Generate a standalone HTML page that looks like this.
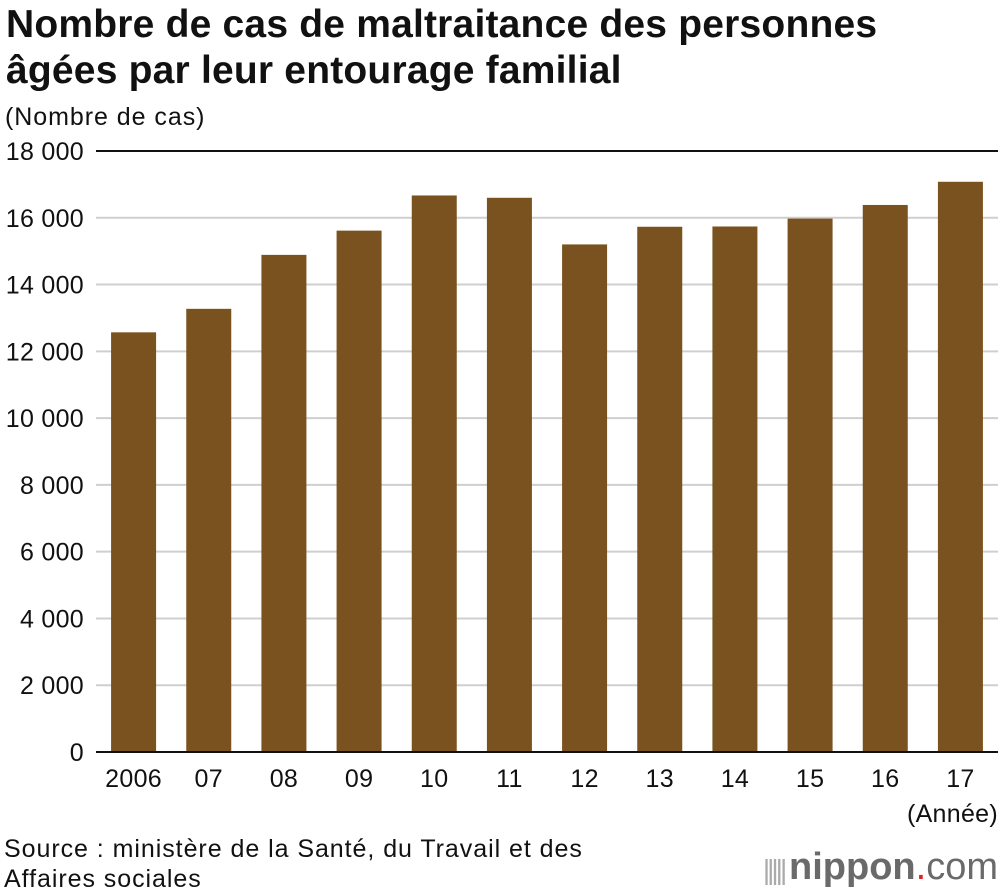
<!DOCTYPE html>
<html><head><meta charset="utf-8"><style>
body{margin:0;background:#fff;font-family:"Liberation Sans",sans-serif;}
#wrap{position:relative;width:1000px;height:896px;overflow:hidden;}
.t{position:absolute;color:#111;}
</style></head><body>
<div id="wrap">
<div class="t" style="left:6px;top:2px;font-size:39px;font-weight:bold;line-height:46px;letter-spacing:0.2px;">Nombre de cas de maltraitance des personnes<br>âgées par leur entourage familial</div>
<div class="t" style="left:5px;top:103px;font-size:25px;letter-spacing:0.95px;">(Nombre de cas)</div>
<svg id="chart" width="1000" height="896" style="position:absolute;left:0;top:0"></svg>
<div class="t" style="right:2px;top:800px;font-size:25px;letter-spacing:0.3px;">(Année)</div>
<div class="t" style="left:4px;top:834px;font-size:25px;line-height:30px;letter-spacing:0.95px;">Source : ministère de la Santé, du Travail et des<br>Affaires sociales</div>
<div style="position:absolute;right:2px;top:846px;font-size:38px;color:#6a6a6a;font-family:'Liberation Sans',sans-serif;white-space:nowrap;">
<span style="color:#aaa;font-size:28px;letter-spacing:-3px;">||||| </span><span style="font-weight:bold;">nippon</span><span style="color:#e02020">.</span>com</div>
</div>
<script>
const categories=["2006","07","08","09","10","11","12","13","14","15","16","17"];
const values=[12569,13273,14889,15615,16668,16599,15202,15731,15739,15976,16384,17078];
const yTicks=[0,2000,4000,6000,8000,10000,12000,14000,16000,18000];
const yTickLabels=["0","2 000","4 000","6 000","8 000","10 000","12 000","14 000","16 000","18 000"];
const svg=document.getElementById('chart');
const NS='http://www.w3.org/2000/svg';
const x0=96,x1=998,y0=752,y1=151,ymax=18000;
const band=(x1-x0)/categories.length,bw=45;
function y(v){return y0-(v/ymax)*(y0-y1);}
function xc(i){return x0+band*(i+0.5);}
function mk(tag,attrs){const e=document.createElementNS(NS,tag);for(const k in attrs)e.setAttribute(k,attrs[k]);svg.appendChild(e);return e;}
yTicks.forEach((t,i)=>{
  const l=mk('line',{x1:x0,x2:x1,y1:y(t),y2:y(t),stroke:(t===ymax)?'#111':'#cfcfcf','stroke-width':2});
  
  
  const tx=mk('text',{x:84,y:y(t)+9,'text-anchor':'end','font-size':25,'letter-spacing':0.3,fill:'#111','font-family':'Liberation Sans, sans-serif'});
  tx.textContent=yTickLabels[i];
  
  
});
values.forEach((v,i)=>{
  const r=mk('rect',{x:xc(i)-bw/2,y:y(v),width:bw,height:y0-y(v),fill:'#7a521f'});
  
  
  const tx=mk('text',{x:xc(i),y:787,'text-anchor':'middle','font-size':25,'letter-spacing':0.3,fill:'#111','font-family':'Liberation Sans, sans-serif'});
  tx.textContent=categories[i];
  
  
});
const b=mk('line',{x1:x0,x2:x1,y1:y0,y2:y0,stroke:'#111','stroke-width':2});


</script>
</body></html>
